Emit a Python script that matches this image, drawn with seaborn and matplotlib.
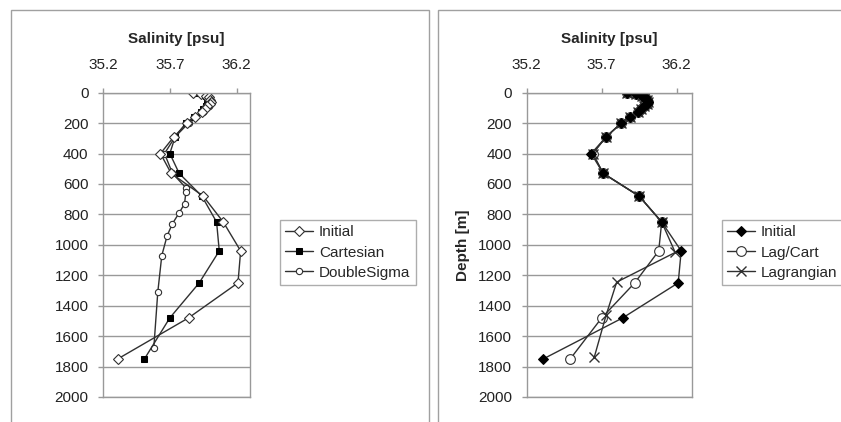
import matplotlib
matplotlib.use("Agg")
import matplotlib.pyplot as plt
import seaborn as sns
from matplotlib.patches import Rectangle

sns.set_style("white")
plt.rcParams["font.family"] = ["Liberation Sans", "DejaVu Sans"]

# ---- data ----
init_depth = [0, 10, 20, 30, 45, 60, 75, 90, 110, 130, 160, 200, 290, 400, 530, 680, 850, 1040, 1250, 1480, 1750]
init_sal = [35.87, 35.93, 35.97, 35.99, 36.00, 36.01, 36.00, 35.98, 35.96, 35.94, 35.89, 35.83,
            35.73, 35.63, 35.71, 35.95, 36.10, 36.23, 36.21, 35.84, 35.31]

cart_depth = init_depth
cart_sal = [35.88, 35.94, 35.97, 35.98, 35.99, 35.99, 35.98, 35.97, 35.95, 35.93, 35.88, 35.82,
            35.74, 35.70, 35.77, 35.94, 36.05, 36.07, 35.92, 35.70, 35.51]

dsig_depth = [0, 15, 35, 60, 90, 130, 200, 290, 400, 530, 625, 655, 730, 790, 860, 940, 1070, 1310, 1680]
dsig_sal = [35.88, 35.95, 35.99, 36.01, 35.99, 35.95, 35.84, 35.74, 35.66, 35.72, 35.82, 35.82,
            35.81, 35.77, 35.72, 35.68, 35.64, 35.61, 35.58]

lagcart_depth = init_depth
lagcart_sal = [35.87, 35.93, 35.97, 35.99, 36.00, 36.01, 36.00, 35.98, 35.96, 35.94, 35.89, 35.83,
               35.73, 35.64, 35.71, 35.95, 36.10, 36.08, 35.92, 35.70, 35.49]

lagr_depth = [0, 10, 20, 30, 45, 60, 75, 90, 110, 130, 160, 200, 290, 400, 530, 680, 850, 1050, 1245, 1460, 1740]
lagr_sal = [35.87, 35.93, 35.97, 35.99, 36.00, 36.01, 36.00, 35.98, 35.96, 35.94, 35.89, 35.83,
            35.73, 35.64, 35.71, 35.95, 36.10, 36.19, 35.80, 35.73, 35.65]

sal_ticks = [35.2, 35.7, 36.2]
depth_ticks = list(range(0, 2001, 200))

W, H = 841, 422
fig = plt.figure(figsize=(W / 100, H / 100), dpi=100)


def px(x0, y0, x1, y1):
    return [x0 / W, 1 - y1 / H, (x1 - x0) / W, (y1 - y0) / H]


# chart-area frames
for x0, x1 in [(11, 429), (438, 845)]:
    fig.patches.append(Rectangle((x0 / W, -0.05), (x1 - x0) / W, 1.05 - 10 / H,
                                 transform=fig.transFigure, fill=False,
                                 edgecolor="#a0a0a0", linewidth=1.0))


def style_axis(ax, ylabel=None):
    ax.set_xlim(35.2, 36.3)
    ax.set_ylim(2000, 0)
    ax.xaxis.tick_top()
    ax.xaxis.set_label_position("top")
    ax.set_xticks(sal_ticks)
    ax.set_xticklabels([f"{v:.1f}" for v in sal_ticks])
    ax.set_yticks(depth_ticks)
    ax.tick_params(axis="both", labelsize=11, colors="#222222", length=3.5, width=1,
                   color="#999999", direction="out")
    ax.tick_params(axis="x", top=True, bottom=False, pad=11.5)
    ax.tick_params(axis="y", left=True, pad=7)
    ax.grid(axis="y", color="#999999", linewidth=1)
    ax.grid(axis="x", visible=False)
    for s in ax.spines.values():
        s.set_color("#999999")
        s.set_linewidth(1)
    ax.set_xlabel("Salinity [psu]", fontsize=11, fontweight="bold", labelpad=11)
    if ylabel:
        ax.set_ylabel(ylabel, fontsize=11, fontweight="bold", labelpad=6)
    else:
        ax.set_ylabel("")


line_kw = dict(sort=False, estimator=None, color="#303030", linewidth=1.0)
leg_kw = dict(loc="lower left", bbox_transform=fig.transFigure, fontsize=11,
              frameon=True, fancybox=False, edgecolor="#999999",
              handlelength=1.8, handletextpad=0.4, borderpad=0.35,
              labelspacing=0.4, borderaxespad=0)

# left panel
ax1 = fig.add_axes(px(103, 92.7, 250, 397))
sns.lineplot(x=dsig_sal, y=dsig_depth, ax=ax1, marker="o", markersize=4.5,
             markerfacecolor="white", markeredgecolor="#303030", markeredgewidth=0.8,
             label="DoubleSigma", **line_kw)
sns.lineplot(x=cart_sal, y=cart_depth, ax=ax1, marker="s", markersize=5,
             markerfacecolor="black", markeredgecolor="black",
             label="Cartesian", **line_kw)
sns.lineplot(x=init_sal, y=init_depth, ax=ax1, marker="D", markersize=5.5,
             markerfacecolor="white", markeredgecolor="#303030", markeredgewidth=0.8,
             label="Initial", **line_kw)
style_axis(ax1)
h, l = ax1.get_legend_handles_labels()
order = [2, 1, 0]
ax1.legend([h[i] for i in order], [l[i] for i in order],
           bbox_to_anchor=(280 / W, 1 - 285 / H), **leg_kw)

# right panel
ax2 = fig.add_axes(px(526.7, 92.7, 691.7, 397))
sns.lineplot(x=lagcart_sal, y=lagcart_depth, ax=ax2, marker="o", markersize=7,
             markerfacecolor="white", markeredgecolor="#303030", markeredgewidth=0.8,
             label="Lag/Cart", **line_kw)
sns.lineplot(x=lagr_sal, y=lagr_depth, ax=ax2, marker="x", markersize=7,
             markeredgecolor="#303030", markeredgewidth=1.0,
             label="Lagrangian", **line_kw)
sns.lineplot(x=init_sal, y=init_depth, ax=ax2, marker="D", markersize=5.5,
             markerfacecolor="black", markeredgecolor="black",
             label="Initial", **line_kw)
style_axis(ax2, "Depth [m]")
h, l = ax2.get_legend_handles_labels()
order = [2, 0, 1]
ax2.legend([h[i] for i in order], [l[i] for i in order],
           bbox_to_anchor=(722 / W, 1 - 285 / H), **leg_kw)

fig.savefig("out.png", dpi=100)
